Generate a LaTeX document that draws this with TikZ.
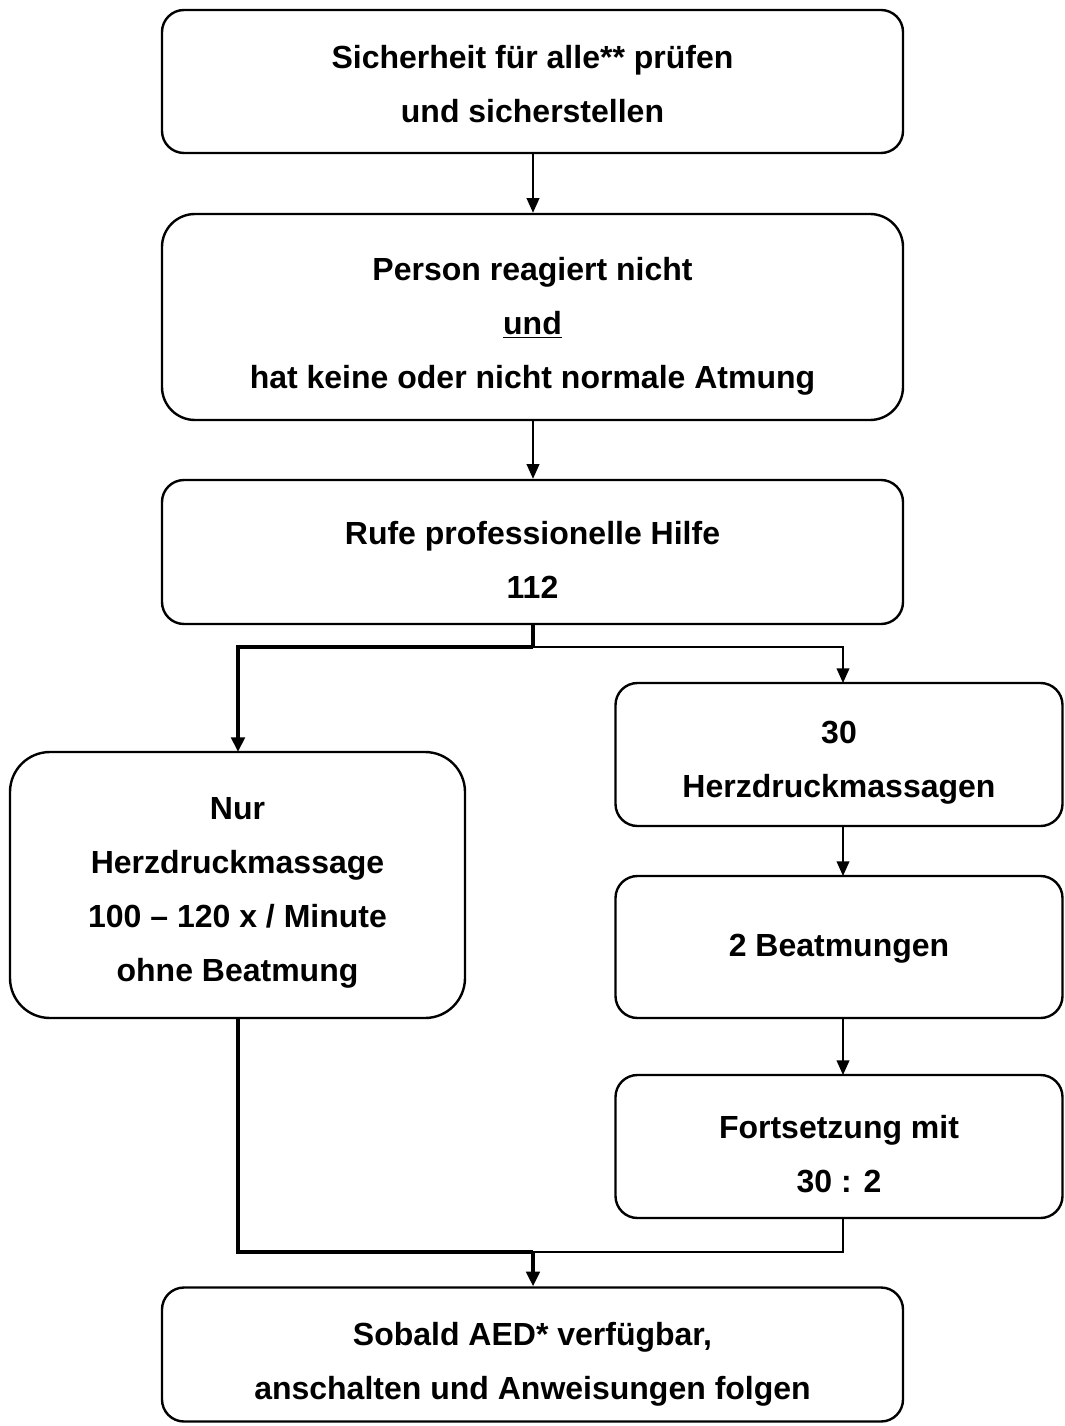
\documentclass[tikz,border=0pt]{standalone}
\usepackage{fontspec}
\setmainfont{Liberation Sans}
\usetikzlibrary{arrows.meta}
\begin{document}
\begin{tikzpicture}[x=0.75pt,y=-0.75pt,
  box/.style={draw,line width=1.8pt,inner sep=0pt},
  txt/.style={inner sep=0pt,align=center,
    font=\fontsize{24pt}{40.5pt}\selectfont\bfseries},
  thinarrow/.style={line width=1.3pt,-{Triangle[width=9.5pt,length=11pt]}},
  thickarrow/.style={line width=3pt,-{Triangle[width=10pt,length=11pt]}},
  thinline/.style={line width=1.3pt},
  thickline/.style={line width=3pt}]
\useasboundingbox (0,0) rectangle (1064,1426);
\node[box,rounded corners=16.5pt,minimum width=555.75pt,minimum height=107.25pt] (b1) at (532.5,81.5) {};
\node[txt] (t1) at (532.5,84) {Sicherheit für alle** prüfen\\und sicherstellen};
\node[box,rounded corners=24.75pt,minimum width=555.75pt,minimum height=154.5pt] (b2) at (532.5,317) {};
\node[txt] (t2) at (532.5,326.5) {Person reagiert nicht\\\underline{und}\\hat keine oder nicht normale Atmung};
\node[box,rounded corners=16.5pt,minimum width=555.75pt,minimum height=108pt] (b3) at (532.5,552) {};
\node[txt] (t3) at (532.5,559.5) {Rufe professionelle Hilfe\\112};
\node[box,rounded corners=30pt,minimum width=341.25pt,minimum height=199.5pt] (bl) at (237.5,885) {};
\node[txt] (tl) at (237.5,892.5) {Nur\\Herzdruckmassage\\100 – 120 x / Minute\\ohne Beatmung};
\node[box,rounded corners=16.5pt,minimum width=335.25pt,minimum height=107.25pt] (r1) at (839,754.5) {};
\node[txt] (tr1) at (839,762.5) {30\\Herzdruckmassagen};
\node[box,rounded corners=16.5pt,minimum width=335.25pt,minimum height=106.5pt] (r2) at (839,947) {};
\node[txt] (tr2) at (839,949) {2 Beatmungen};
\node[box,rounded corners=16.5pt,minimum width=335.25pt,minimum height=107.25pt] (r3) at (839,1146.5) {};
\node[txt] (tr3) at (839,1154.5) {Fortsetzung mit\\30 : 2};
\node[box,rounded corners=16.5pt,minimum width=555.75pt,minimum height=100.5pt] (b4) at (532.5,1354.5) {};
\node[txt] (t4) at (532.5,1364.5) {Sobald AED* verfügbar,\\anschalten und Anweisungen folgen};
\coordinate (split) at (533,647);
\coordinate (rsplit) at (843,647);
\coordinate (join) at (533,1252);
\coordinate (r1in) at (843,683);
\coordinate (r2in) at (843,876);
\coordinate (r3in) at (843,1075);
\coordinate (r1out) at (843,826);
\coordinate (r2out) at (843,1018);
\coordinate (r3out) at (843,1218);
\coordinate (lout) at (238,1018);
\coordinate (lin) at (238,752);
\draw[thinarrow] (b1.south -| split) -- (b2.north -| split);
\draw[thinarrow] (b2.south -| split) -- (b3.north -| split);
\draw[thickline] (b3.south -| split) -- (split);
\draw[thickarrow] (split) -| (lin);
\draw[thinarrow] (split) -- (rsplit) -- (r1in);
\draw[thinarrow] (r1out) -- (r2in);
\draw[thinarrow] (r2out) -- (r3in);
\draw[thickline] (lout) |- (join);
\draw[thinline] (r3out) |- (join);
\draw[thickarrow,line width=2.5pt] (join) -- (b4.north -| join);
\end{tikzpicture}
\end{document}
